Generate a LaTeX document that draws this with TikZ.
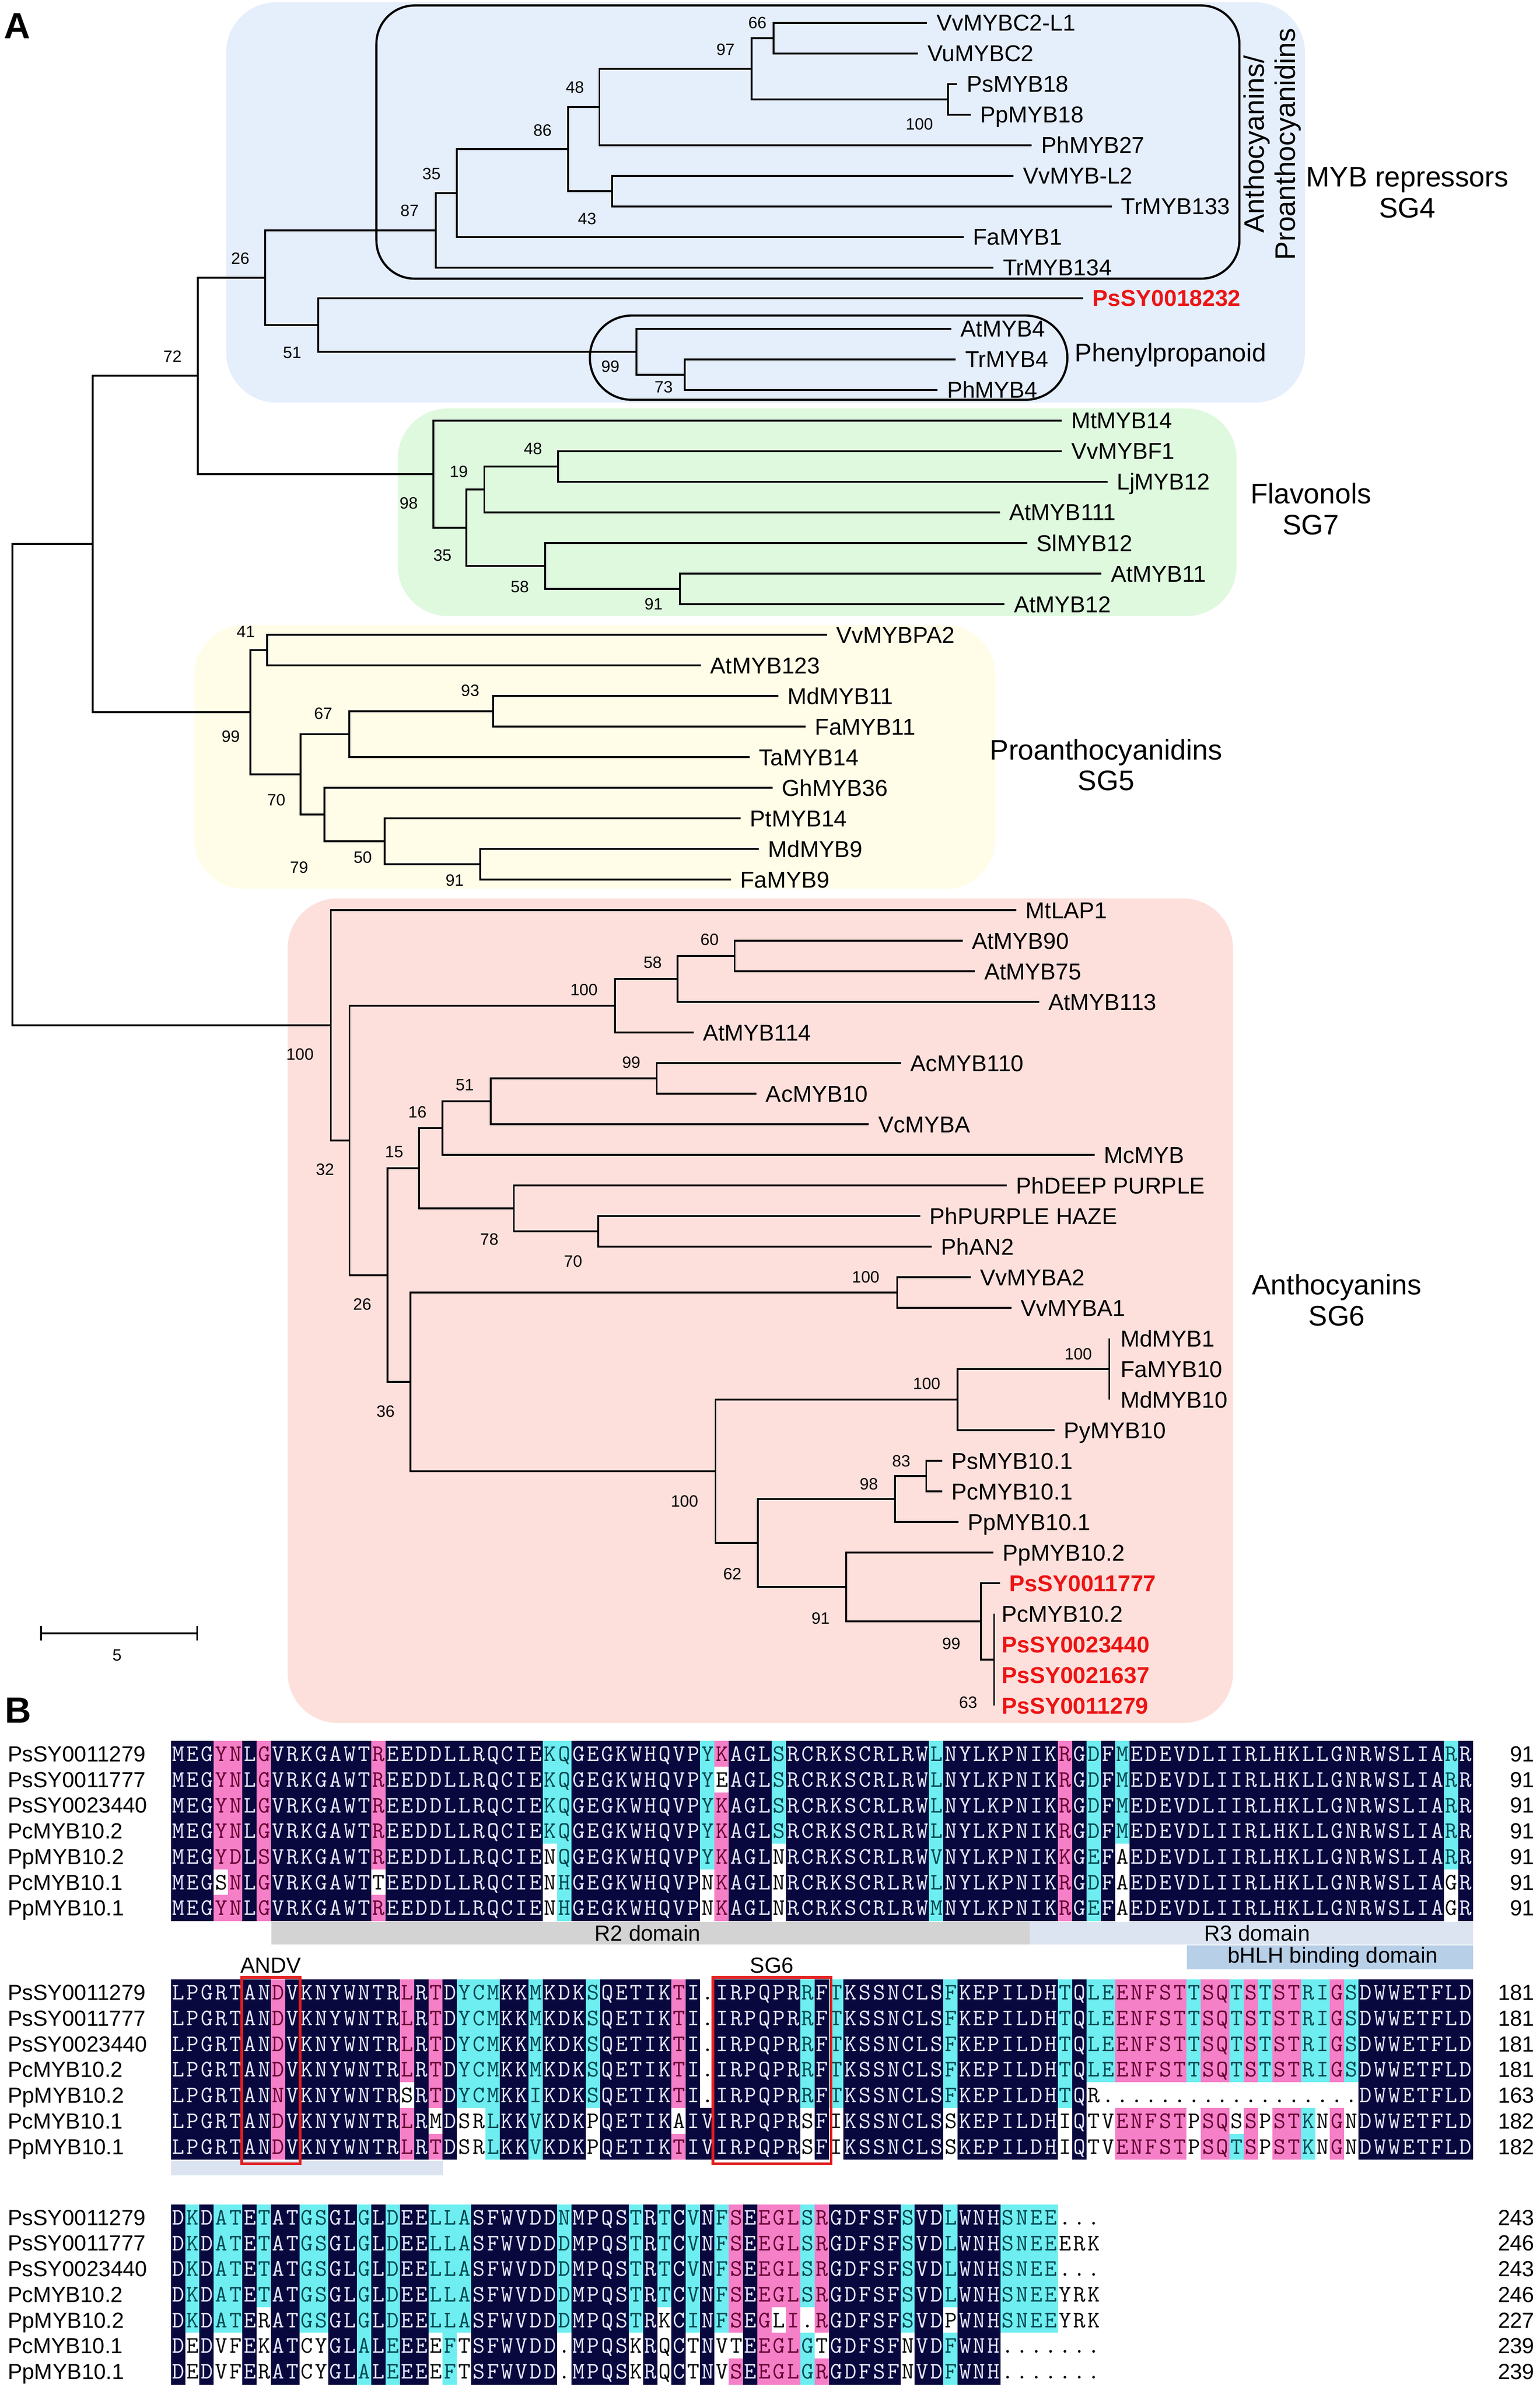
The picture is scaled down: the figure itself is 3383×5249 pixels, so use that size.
\documentclass[tikz,border=0pt]{standalone}
\usepackage{fontspec}
\setmainfont{Liberation Sans}
\definecolor{bgblue}{RGB}{229,238,251}
\definecolor{bggreen}{RGB}{223,249,223}
\definecolor{bgyellow}{RGB}{255,253,231}
\definecolor{bgpink}{RGB}{253,224,220}
\definecolor{psred}{RGB}{236,20,20}
\definecolor{alnbgd}{RGB}{8,8,62}
\definecolor{alnbgc}{RGB}{110,238,240}
\definecolor{alnbgp}{RGB}{245,128,200}
\definecolor{alnbgw}{RGB}{255,255,255}
\definecolor{alnfgd}{RGB}{232,232,255}
\definecolor{alnfgc}{RGB}{0,70,80}
\definecolor{alnfgp}{RGB}{100,0,50}
\definecolor{alnfgw}{RGB}{0,0,0}
\definecolor{r2grey}{RGB}{211,211,211}
\definecolor{r3blue}{RGB}{220,228,242}
\definecolor{bhlhblue}{RGB}{184,207,232}
\definecolor{boxred}{RGB}{226,30,30}
\tikzset{
  br/.style={line width=1pt},
  leaf/.style={anchor=west, inner xsep=5pt, inner ysep=0pt, text height=9pt, text depth=0pt, font=\fontsize{12.6}{15}\selectfont},
  leafred/.style={leaf, text=psred, font=\bfseries\fontsize{12.6}{15}\selectfont},
  leafp/.style={leaf, inner xsep=4pt},
  leafpred/.style={leafred, inner xsep=4pt},
  leafm/.style={leaf, inner xsep=6pt},
  bs/.style={inner sep=0pt, font=\fontsize{9}{10}\selectfont},
  grp/.style={align=center, inner sep=0pt, font=\fontsize{15.5}{17}\selectfont},
  alnchar/.style={anchor=base, inner sep=0pt, font=\ttfamily\fontsize{13}{13}\selectfont},
  aname/.style={anchor=base west, inner sep=0pt, font=\fontsize{12}{14}\selectfont},
  anum/.style={anchor=base east, inner sep=0pt, font=\fontsize{12}{14}\selectfont},
  dom/.style={inner sep=0pt, font=\fontsize{12}{14}\selectfont},
  panel/.style={anchor=base west, inner sep=0pt, font=\bfseries\fontsize{20}{24}\selectfont},
  rbox/.style={draw=boxred, line width=1.5pt},
}
\ExplSyntaxOn
\prop_new:N \l__aln_col_prop
\prop_new:N \l__aln_row_prop
\int_new:N \l__aln_i_int
\tl_new:N \l__aln_code_tl
\cs_new_protected:Npn \__aln_cell:nnnn #1#2#3#4
  {
    \fill [ alnbg#3 ] ( {376+(#1-1)*31.43-0.6} , {#2-0.6} ) rectangle ( {376+#1*31.43+0.6} , {#2+56.4+0.6} ) ;
    \node [ alnchar , text = alnfg#3 ] at ( {376+(#1-0.5)*31.43} , {#2+44} ) {#4} ;
  }
\cs_generate_variant:Nn \__aln_cell:nnnn { VnVn }
\NewDocumentCommand \AlnCols { m }
  { \prop_set_from_keyval:Nn \l__aln_col_prop {#1} }
\NewDocumentCommand \AlnRow { m m m }
  {
    \prop_set_from_keyval:Nn \l__aln_row_prop {#3}
    \int_zero:N \l__aln_i_int
    \tl_map_inline:nn {#2}
      {
        \int_incr:N \l__aln_i_int
        \exp_args:NNx \prop_get:NnNF \l__aln_row_prop { \int_use:N \l__aln_i_int } \l__aln_code_tl
          {
            \exp_args:NNx \prop_get:NnNF \l__aln_col_prop { \int_use:N \l__aln_i_int } \l__aln_code_tl
              { \tl_set:Nn \l__aln_code_tl { d } }
          }
        \__aln_cell:VnVn \l__aln_i_int {#1} \l__aln_code_tl {##1}
      }
  }
\ExplSyntaxOff
\begin{document}
\begin{tikzpicture}[x=0.25pt,y=-0.25pt]
\useasboundingbox (0,0) rectangle (3383,5249);
\fill[white] (0,0) rectangle (3383,5249);
% ---------- background boxes
\fill[bgblue, rounded corners=27.5pt] (497,5) rectangle (2867,884);
\fill[bggreen, rounded corners=27.5pt] (874,897) rectangle (2717,1353);
\fill[bgyellow, rounded corners=27.5pt] (427,1373) rectangle (2187,1952);
\fill[bgpink, rounded corners=27.5pt] (632,1973) rectangle (2709,3784);
\draw[line width=1.2pt, rounded corners=21pt] (827,12) rectangle (2723,612);
\draw[line width=1.2pt, rounded corners=23pt] (1296,693) rectangle (2345,878);
% ---------- group labels
\node[grp, rotate=90] (gAP) at (2795,317) {Anthocyanins/\\Proanthocyanidins};
\node[grp] (gSG4) at (3092,423) {MYB repressors\\SG4};
\node[grp, font=\fontsize{14}{17}\selectfont] (gPhe) at (2572,780) {Phenylpropanoid};
\node[grp] (gSG7) at (2880,1118) {Flavonols\\SG7};
\node[grp] (gSG5) at (2430,1680) {Proanthocyanidins\\SG5};
\node[grp] (gSG6) at (2937,2855) {Anthocyanins\\SG6};
\node[panel] (pA) at (8,85) {A};
% ---------- internal nodes
\coordinate (n66) at (1700,83.6);
\coordinate (n18) at (2083,218);
\coordinate (n97) at (1651,150.8);
\coordinate (n48a) at (1317,234.8);
\coordinate (n43) at (1345,419.6);
\coordinate (n86) at (1248,327.2);
\coordinate (n35a) at (1004,423.8);
\coordinate (n87) at (957,505.7);
\coordinate (n73) at (1504,822.8);
\coordinate (n99a) at (1398,772.4);
\coordinate (n51) at (699,713.6);
\coordinate (n26a) at (583,609.65);
\coordinate (n48b) at (1226,1024.4);
\coordinate (n19) at (1064,1074.8);
\coordinate (n91a) at (1494,1293.2);
\coordinate (n58a) at (1198,1242.8);
\coordinate (n35b) at (1025,1158.8);
\coordinate (n98) at (952,1041.2);
\coordinate (n72) at (435,825.4);
\coordinate (n41) at (587,1427.6);
\coordinate (n93) at (1083,1562);
\coordinate (n67) at (767,1612.4);
\coordinate (n91b) at (1055,1898);
\coordinate (n50) at (845,1847.6);
\coordinate (n79) at (713,1788.8);
\coordinate (n70) at (660,1700.6);
\coordinate (n99b) at (550,1564.1);
\coordinate (n204) at (204,1194.75);
\coordinate (n60) at (1614,2099.6);
\coordinate (n58b) at (1489,2150);
\coordinate (n100a) at (1351,2208.8);
\coordinate (n99c) at (1443,2368.4);
\coordinate (n51b) at (1078,2418.8);
\coordinate (n16) at (972,2477.6);
\coordinate (n70b) at (1314,2704.4);
\coordinate (n78) at (1129,2654);
\coordinate (n15) at (921,2565.8);
\coordinate (n100b) at (1971,2838.8);
\coordinate (n100c) at (2437,3006.8);
\coordinate (c100t) at (2437,2939.6);
\coordinate (c100b) at (2437,3074);
\coordinate (n100d) at (2104,3074);
\coordinate (n83) at (2035,3242);
\coordinate (n98b) at (1966,3292.4);
\coordinate (n63) at (2184,3645.2);
\coordinate (c63t) at (2184,3544.4);
\coordinate (c63b) at (2184,3746);
\coordinate (n99d) at (2155,3561.2);
\coordinate (n91c) at (1859,3485.6);
\coordinate (n62) at (1665,3389);
\coordinate (n100e) at (1572,3231.5);
\coordinate (n36) at (902,3035.15);
\coordinate (n26b) at (851,2800.5);
\coordinate (n32) at (768,2504.65);
\coordinate (n100f) at (727,2251.7);
\coordinate (root) at (27,1723.2);
% ---------- leaves
\node[leaf] (lVvMYBC2L1) at (2037,50) {VvMYBC2-L1};
\node[leaf] (lVuMYBC2) at (2017,117.2) {VuMYBC2};
\node[leaf] (lPsMYB18) at (2103,184.4) {PsMYB18};
\node[leaf] (lPpMYB18) at (2133,251.6) {PpMYB18};
\node[leaf] (lPhMYB27) at (2267,318.8) {PhMYB27};
\node[leaf] (lVvMYBL2) at (2227,386) {VvMYB-L2};
\node[leaf] (lTrMYB133) at (2443,453.2) {TrMYB133};
\node[leaf] (lFaMYB1) at (2117,520.4) {FaMYB1};
\node[leaf] (lTrMYB134) at (2183,587.6) {TrMYB134};
\node[leafred] (lPsSY0018232) at (2380,654.8) {PsSY0018232};
\node[leaf] (lAtMYB4) at (2090,722) {AtMYB4};
\node[leaf] (lTrMYB4) at (2100,789.2) {TrMYB4};
\node[leaf] (lPhMYB4) at (2060,856.4) {PhMYB4};
\node[leaf] (lMtMYB14) at (2333,923.6) {MtMYB14};
\node[leaf] (lVvMYBF1) at (2333,990.8) {VvMYBF1};
\node[leaf] (lLjMYB12) at (2433,1058) {LjMYB12};
\node[leaf] (lAtMYB111) at (2197,1125.2) {AtMYB111};
\node[leaf] (lSlMYB12) at (2257,1192.4) {SlMYB12};
\node[leaf] (lAtMYB11) at (2420,1259.6) {AtMYB11};
\node[leaf] (lAtMYB12) at (2207,1326.8) {AtMYB12};
\node[leaf] (lVvMYBPA2) at (1817,1394) {VvMYBPA2};
\node[leaf] (lAtMYB123) at (1540,1461.2) {AtMYB123};
\node[leaf] (lMdMYB11) at (1710,1528.4) {MdMYB11};
\node[leaf] (lFaMYB11) at (1770,1595.6) {FaMYB11};
\node[leaf] (lTaMYB14) at (1647,1662.8) {TaMYB14};
\node[leaf] (lGhMYB36) at (1697,1730) {GhMYB36};
\node[leaf] (lPtMYB14) at (1627,1797.2) {PtMYB14};
\node[leaf] (lMdMYB9) at (1667,1864.4) {MdMYB9};
\node[leaf] (lFaMYB9) at (1606,1931.6) {FaMYB9};
\node[leaf] (lMtLAP1) at (2233,1998.8) {MtLAP1};
\node[leaf] (lAtMYB90) at (2115,2066) {AtMYB90};
\node[leaf] (lAtMYB75) at (2142,2133.2) {AtMYB75};
\node[leaf] (lAtMYB113) at (2283,2200.4) {AtMYB113};
\node[leaf] (lAtMYB114) at (1524,2267.6) {AtMYB114};
\node[leaf] (lAcMYB110) at (1980,2334.8) {AcMYB110};
\node[leaf] (lAcMYB10) at (1662,2402) {AcMYB10};
\node[leaf] (lVcMYBA) at (1909,2469.2) {VcMYBA};
\node[leaf] (lMcMYB) at (2405,2536.4) {McMYB};
\node[leaf] (lPhDEEP) at (2212,2603.6) {PhDEEP PURPLE};
\node[leaf] (lPhPURPLE) at (2022,2670.8) {PhPURPLE HAZE};
\node[leaf] (lPhAN2) at (2047,2738) {PhAN2};
\node[leaf] (lVvMYBA2) at (2133,2805.2) {VvMYBA2};
\node[leaf] (lVvMYBA1) at (2222,2872.4) {VvMYBA1};
\node[leafm] (lMdMYB1) at (2437,2939.6) {MdMYB1};
\node[leafm] (lFaMYB10) at (2437,3006.8) {FaMYB10};
\node[leafm] (lMdMYB10) at (2437,3074) {MdMYB10};
\node[leaf] (lPyMYB10) at (2317,3141.2) {PyMYB10};
\node[leaf] (lPsMYB101) at (2070,3208.4) {PsMYB10.1};
\node[leaf] (lPcMYB101) at (2070,3275.6) {PcMYB10.1};
\node[leaf] (lPpMYB101) at (2106,3342.8) {PpMYB10.1};
\node[leaf] (lPpMYB102) at (2182,3410) {PpMYB10.2};
\node[leafred] (lPsSY0011777) at (2197,3477.2) {PsSY0011777};
\node[leafp] (lPcMYB102) at (2184,3544.4) {PcMYB10.2};
\node[leafpred] (lPsSY0023440) at (2184,3611.6) {PsSY0023440};
\node[leafpred] (lPsSY0021637) at (2184,3678.8) {PsSY0021637};
\node[leafpred] (lPsSY0011279) at (2184,3746) {PsSY0011279};
% ---------- branches
\draw[br] (root) |- (n204) (root) |- (n100f);
\draw[br] (n204) |- (n72) (n204) |- (n99b);
\draw[br] (n72) |- (n26a) (n72) |- (n98);
\draw[br] (n26a) |- (n87) (n26a) |- (n51);
\draw[br] (n87) |- (n35a) (n87) |- (lTrMYB134.west);
\draw[br] (n35a) |- (n86) (n35a) |- (lFaMYB1.west);
\draw[br] (n86) |- (n48a) (n86) |- (n43);
\draw[br] (n48a) |- (n97) (n48a) |- (lPhMYB27.west);
\draw[br] (n97) |- (n66) (n97) |- (n18);
\draw[br] (n66) |- (lVvMYBC2L1.west) (n66) |- (lVuMYBC2.west);
\draw[br] (n18) |- (lPsMYB18.west) (n18) |- (lPpMYB18.west);
\draw[br] (n43) |- (lVvMYBL2.west) (n43) |- (lTrMYB133.west);
\draw[br] (n51) |- (lPsSY0018232.west) (n51) |- (n99a);
\draw[br] (n99a) |- (lAtMYB4.west) (n99a) |- (n73);
\draw[br] (n73) |- (lTrMYB4.west) (n73) |- (lPhMYB4.west);
\draw[br] (n98) |- (lMtMYB14.west) (n98) |- (n35b);
\draw[br] (n35b) |- (n19) (n35b) |- (n58a);
\draw[br] (n19) |- (n48b) (n19) |- (lAtMYB111.west);
\draw[br] (n48b) |- (lVvMYBF1.west) (n48b) |- (lLjMYB12.west);
\draw[br] (n58a) |- (lSlMYB12.west) (n58a) |- (n91a);
\draw[br] (n91a) |- (lAtMYB11.west) (n91a) |- (lAtMYB12.west);
\draw[br] (n99b) |- (n41) (n99b) |- (n70);
\draw[br] (n41) |- (lVvMYBPA2.west) (n41) |- (lAtMYB123.west);
\draw[br] (n70) |- (n67) (n70) |- (n79);
\draw[br] (n67) |- (n93) (n67) |- (lTaMYB14.west);
\draw[br] (n93) |- (lMdMYB11.west) (n93) |- (lFaMYB11.west);
\draw[br] (n79) |- (lGhMYB36.west) (n79) |- (n50);
\draw[br] (n50) |- (lPtMYB14.west) (n50) |- (n91b);
\draw[br] (n91b) |- (lMdMYB9.west) (n91b) |- (lFaMYB9.west);
\draw[br] (n100f) |- (lMtLAP1.west) (n100f) |- (n32);
\draw[br] (n32) |- (n100a) (n32) |- (n26b);
\draw[br] (n100a) |- (n58b) (n100a) |- (lAtMYB114.west);
\draw[br] (n58b) |- (n60) (n58b) |- (lAtMYB113.west);
\draw[br] (n60) |- (lAtMYB90.west) (n60) |- (lAtMYB75.west);
\draw[br] (n26b) |- (n15) (n26b) |- (n36);
\draw[br] (n15) |- (n16) (n15) |- (n78);
\draw[br] (n16) |- (n51b) (n16) |- (lMcMYB.west);
\draw[br] (n51b) |- (n99c) (n51b) |- (lVcMYBA.west);
\draw[br] (n99c) |- (lAcMYB110.west) (n99c) |- (lAcMYB10.west);
\draw[br] (n78) |- (lPhDEEP.west) (n78) |- (n70b);
\draw[br] (n70b) |- (lPhPURPLE.west) (n70b) |- (lPhAN2.west);
\draw[br] (n36) |- (n100b) (n36) |- (n100e);
\draw[br] (n100b) |- (lVvMYBA2.west) (n100b) |- (lVvMYBA1.west);
\draw[br] (n100e) |- (n100d) (n100e) |- (n62);
\draw[br] (n100d) |- (n100c) (n100d) |- (lPyMYB10.west);
\draw[br] (c100t) -- (c100b);
\draw[br] (n62) |- (n98b) (n62) |- (n91c);
\draw[br] (n98b) |- (n83) (n98b) |- (lPpMYB101.west);
\draw[br] (n83) |- (lPsMYB101.west) (n83) |- (lPcMYB101.west);
\draw[br] (n91c) |- (lPpMYB102.west) (n91c) |- (n99d);
\draw[br] (n99d) |- (lPsSY0011777.west) (n99d) |- (n63);
\draw[br] (c63t) -- (c63b);
% ---------- bootstrap values
\foreach \v/\x/\y [count=\k] in {66/1664/50, 97/1594/109, 100/2020/273, 48/1263/192, 86/1192/286, 35/948/382, 87/900/463, 43/1290/480, 26/528/568, 51/642/775, 99/1341/805, 73/1458/850, 72/379/783, 48/1171/985, 19/1008/1036, 98/898/1105, 35/972/1220, 58/1142/1289, 91/1436/1327, 41/540/1387, 99/507/1617, 67/710/1567, 93/1033/1517, 70/607/1757, 79/657/1905, 50/797/1883, 91/999/1933, 100/659/2316, 32/714/2569, 100/1283/2174, 58/1434/2114, 60/1559/2064, 26/796/2865, 15/866/2530, 16/917/2443, 51/1021/2383, 99/1387/2333, 78/1075/2722, 70/1259/2770, 36/847/3100, 100/1902/2805, 100/1504/3297, 100/2036/3039, 100/2369/2974, 62/1609/3457, 98/1909/3259, 83/1980/3209, 91/1803/3554, 99/2090/3610, 63/2127/3739}
  {\node[bs] (bs\k) at (\x,\y) {\v};}
% ---------- scale bar
\coordinate (sbL) at (90,3587);
\coordinate (sbR) at (433,3587);
\draw[br] (sbL) -- (sbR);
\draw[br] ([yshift=4pt]sbL) -- ([yshift=-4pt]sbL);
\draw[br] ([yshift=4pt]sbR) -- ([yshift=-4pt]sbR);
\node[bs] (sb5) at (257,3635) {5};
% ================= PANEL B
\node[panel] (pB) at (10,3784) {B};
% ---- block 1
\AlnCols{4=p,5=p,7=p,15=p,27=c,28=c,38=c,39=p,43=c,54=c,63=p,65=c,67=c,90=c}
\AlnRow{3824}{MEGYNLGVRKGAWTREEDDLLRQCIEKQGEGKWHQVPYKAGLSRCRKSCRLRWLNYLKPNIKRGDFMEDEVDLIIRLHKLLGNRWSLIARR}{}
\AlnRow{3880.4}{MEGYNLGVRKGAWTREEDDLLRQCIEKQGEGKWHQVPYEAGLSRCRKSCRLRWLNYLKPNIKRGDFMEDEVDLIIRLHKLLGNRWSLIARR}{39=w}
\AlnRow{3936.8}{MEGYNLGVRKGAWTREEDDLLRQCIEKQGEGKWHQVPYKAGLSRCRKSCRLRWLNYLKPNIKRGDFMEDEVDLIIRLHKLLGNRWSLIARR}{}
\AlnRow{3993.2}{MEGYNLGVRKGAWTREEDDLLRQCIEKQGEGKWHQVPYKAGLSRCRKSCRLRWLNYLKPNIKRGDFMEDEVDLIIRLHKLLGNRWSLIARR}{}
\AlnRow{4049.6}{MEGYDLSVRKGAWTREEDDLLRQCIENQGEGKWHQVPYKAGLNRCRKSCRLRWVNYLKPNIKKGEFAEDEVDLIIRLHKLLGNRWSLIARR}{27=w,43=w,67=w}
\AlnRow{4106}{MEGSNLGVRKGAWTTEEDDLLRQCIENHGEGKWHQVPNKAGLNRCRKSCRLRWLNYLKPNIKRGDFAEDEVDLIIRLHKLLGNRWSLIAGR}{4=w,15=w,27=w,38=w,43=w,67=w,90=w}
\AlnRow{4162.4}{MEGYNLGVRKGAWTREEDDLLRQCIENHGEGKWHQVPNKAGLNRCRKSCRLRWMNYLKPNIKRGEFAEDEVDLIIRLHKLLGNRWSLIAGR}{27=w,38=w,43=w,67=w,90=w}
% domain bars
\fill[r2grey] (596,4221) rectangle (2262,4271);
\fill[r3blue] (2262,4221) rectangle (3236,4271);
\fill[bhlhblue] (2608,4273) rectangle (3236,4325);
\node[dom] (dR2) at (1423,4246) {R2 domain};
\node[dom] (dR3) at (2762,4246) {R3 domain};
\node[dom] (dbH) at (2928,4299) {bHLH binding domain};
% ---- block 2
\AlnCols{8=p,17=p,19=p,21=c,22=c,23=c,26=c,30=c,36=p,38=w,45=c,47=c,55=c,63=c,65=c,66=c,67=p,68=p,69=p,70=p,71=p,72=c,73=p,74=p,75=c,76=p,77=c,78=p,79=p,80=c,81=c,82=p,83=c}
\AlnRow{4348}{LPGRTANDVKNYWNTRLRTDYCMKKMKDKSQETIKTI.IRPQPRRFTKSSNCLSFKEPILDHTQLEENFSTTSQTSTSTRIGSDWWETFLD}{}
\AlnRow{4404.4}{LPGRTANDVKNYWNTRLRTDYCMKKMKDKSQETIKTI.IRPQPRRFTKSSNCLSFKEPILDHTQLEENFSTTSQTSTSTRIGSDWWETFLD}{}
\AlnRow{4460.8}{LPGRTANDVKNYWNTRLRTDYCMKKMKDKSQETIKTI.IRPQPRRFTKSSNCLSFKEPILDHTQLEENFSTTSQTSTSTRIGSDWWETFLD}{}
\AlnRow{4517.2}{LPGRTANDVKNYWNTRLRTDYCMKKMKDKSQETIKTI.IRPQPRRFTKSSNCLSFKEPILDHTQLEENFSTTSQTSTSTRIGSDWWETFLD}{}
\AlnRow{4573.6}{LPGRTANNVKNYWNTRSRTDYCMKKIKDKSQETIKTI.IRPQPRRFTKSSNCLSFKEPILDHTQR..................DWWETFLD}{17=w,65=w,66=w,67=w,68=w,69=w,70=w,71=w,72=w,73=w,74=w,75=w,76=w,77=w,78=w,79=w,80=w,81=w,82=w,83=w}
\AlnRow{4630}{LPGRTANDVKNYWNTRLRMDSRLKKVKDKPQETIKAIVIRPQPRSFIKSSNCLSSKEPILDHIQTVENFSTPSQSSPSTKNGNDWWETFLD}{19=w,21=w,22=w,30=w,36=w,38=d,45=w,47=w,55=w,63=w,65=w,66=w,72=w,75=w,77=w,81=w,83=w}
\AlnRow{4686.4}{LPGRTANDVKNYWNTRLRTDSRLKKVKDKPQETIKTIVIRPQPRSFIKSSNCLSSKEPILDHIQTVENFSTPSQTSPSTKNGNDWWETFLD}{21=w,22=w,30=w,38=d,45=w,47=w,55=w,63=w,65=w,66=w,72=w,77=w,81=w,83=w}
\fill[r3blue] (376,4746) rectangle (973,4778);
\draw[rbox] (531,4343) rectangle (659,4752);
\draw[rbox] (1566,4343) rectangle (1826,4752);
\node[dom] (lANDV) at (595,4316) {ANDV};
\node[dom] (lSG6) at (1696,4316) {SG6};
% ---- block 3
\AlnCols{2=c,4=c,5=c,7=c,10=c,11=c,14=c,16=c,19=c,20=c,21=c,28=c,33=c,35=c,37=c,39=c,40=p,42=p,43=p,44=p,45=c,46=p,52=c,55=c,59=c,60=c,61=c,62=c,63=w,64=w,65=w}
\AlnRow{4842}{DKDATETATGSGLGLDEELLASFWVDDNMPQSTRTCVNFSEEGLSRGDFSFSVDLWNHSNEE...}{}
\AlnRow{4898.4}{DKDATETATGSGLGLDEELLASFWVDDDMPQSTRTCVNFSEEGLSRGDFSFSVDLWNHSNEEERK}{}
\AlnRow{4954.8}{DKDATETATGSGLGLDEELLASFWVDDDMPQSTRTCVNFSEEGLSRGDFSFSVDLWNHSNEE...}{}
\AlnRow{5011.2}{DKDATETATGSGLGLDEELLASFWVDDDMPQSTRTCVNFSEEGLSRGDFSFSVDLWNHSNEEYRK}{}
\AlnRow{5067.6}{DKDATERATGSGLGLDEELLASFWVDDDMPQSTRKCINFSEGLI.RGDFSFSVDPWNHSNEEYRK}{7=w,35=w,43=w,45=w,55=w}
\AlnRow{5124}{DEDVFEKATCYGLALEEEEFTSFWVDD.MPQSKRQCTNVTEEGLGTGDFSFNVDFWNH.......}{2=w,4=w,5=w,7=w,10=w,11=w,19=w,21=w,28=w,33=w,35=w,37=w,39=w,40=w,46=w,52=w,59=w,60=w,61=w,62=w}
\AlnRow{5180.4}{DEDVFERATCYGLALEEEEFTSFWVDD.MPQSKRQCTNVSEEGLGRGDFSFNVDFWNH.......}{2=w,4=w,5=w,7=w,10=w,11=w,19=w,21=w,28=w,33=w,35=w,37=w,39=w,52=w,59=w,60=w,61=w,62=w}
% ---- names and lengths
\foreach \top in {3824,4348,4842}{
  \foreach \nm [count=\i from 0] in {PsSY0011279,PsSY0011777,PsSY0023440,PcMYB10.2,PpMYB10.2,PcMYB10.1,PpMYB10.1}
    {\node[aname] at (16,{\top+56.4*\i+45}) {\nm};}
}
\foreach \nu [count=\i from 0] in {91,91,91,91,91,91,91}
  {\node[anum] at (3372,{3824+56.4*\i+45}) {\nu};}
\foreach \nu [count=\i from 0] in {181,181,181,181,163,182,182}
  {\node[anum] at (3372,{4348+56.4*\i+45}) {\nu};}
\foreach \nu [count=\i from 0] in {243,246,243,246,227,239,239}
  {\node[anum] at (3372,{4842+56.4*\i+45}) {\nu};}
\end{tikzpicture}
\end{document}
